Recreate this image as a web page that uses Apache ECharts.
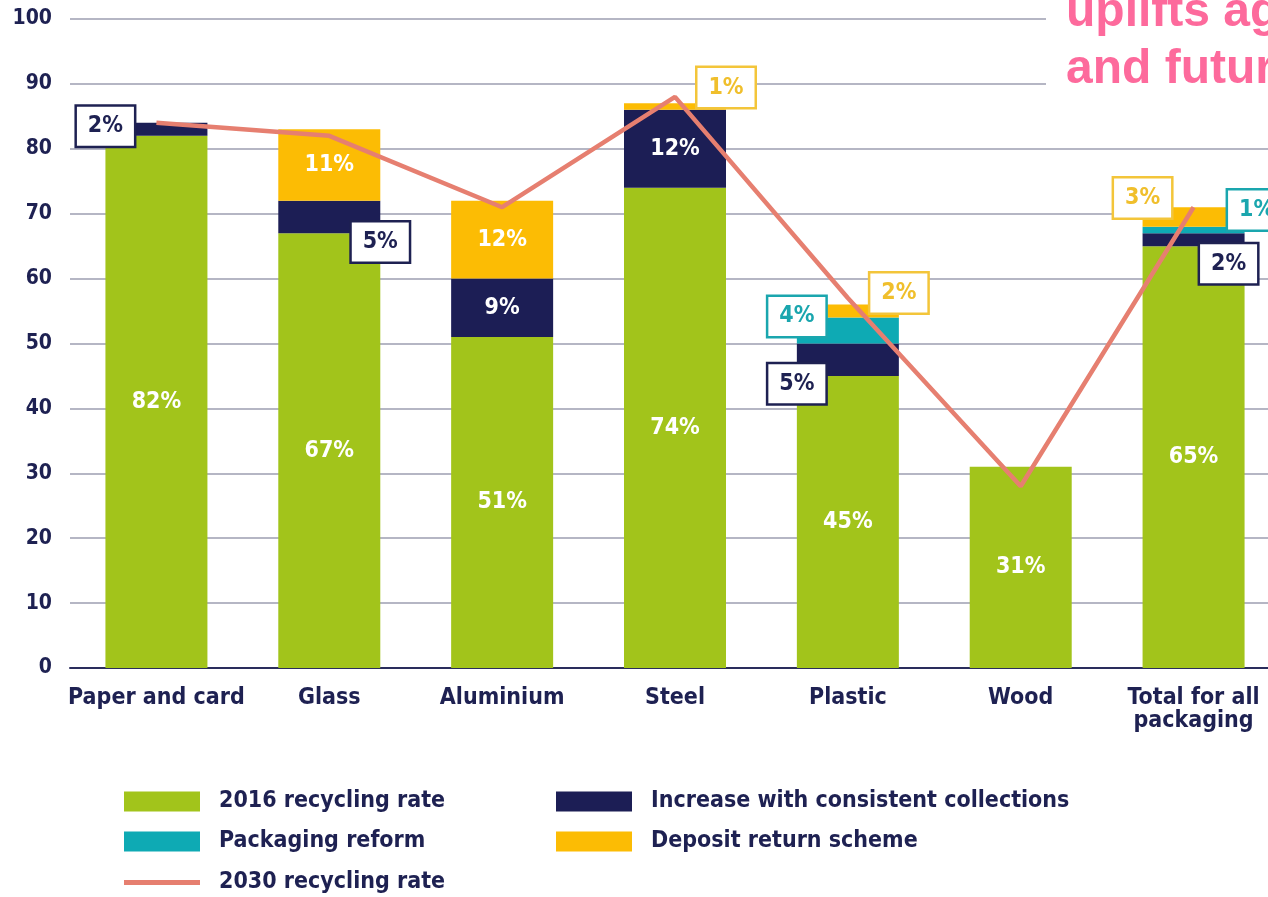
<!DOCTYPE html>
<html>
<head>
<meta charset="utf-8">
<script src="https://cdn.jsdelivr.net/npm/echarts@6/dist/echarts.min.js"></script>
<style>
  html, body { margin: 0; padding: 0; background: #fff; }
  #chart { width: 1268px; height: 897px; }
</style>
</head>
<body>
<div id="chart"></div>
<script>
// Packaging recycling rates: 2016 baseline plus uplifts from each measure, and 2030 rate
const categories = ['Paper and card', 'Glass', 'Aluminium', 'Steel', 'Plastic', 'Wood', 'Total for all\npackaging'];
const rate2016 = [82, 67, 51, 74, 45, 31, 65];
const consistentCollections = [2, 5, 9, 12, 5, null, 2];
const packagingReform = [null, null, null, null, 4, null, 1];
const depositReturn = [null, 11, 12, 1, 2, null, 3];
const rate2030 = [84, 82, 71, 88, 57, 28, 71];

const seriesNames = ['2016 recycling rate', 'Increase with consistent collections', 'Packaging reform', 'Deposit return scheme', '2030 recycling rate'];

const FONT = "'DejaVu Sans Condensed', 'DejaVu Sans', sans-serif";
const NAVY = '#1e2152';
const GREEN = '#a2c41b';
const DARK = '#1c1e55';
const TEAL = '#0eaab4';
const YELLOW = '#fcbc04';
const SALMON = '#e67f70';

// Boxed callouts placed beside small segments: pixel offset from segment centre
const callouts = {
  collections: { 0: [-51, -3], 1: [51, 25], 4: [-51, 24], 6: [35, 24] },
  reform: { 4: [-51, -14], 6: [63, -20] },
  deposit: { 3: [51, -19], 4: [51, -18], 6: [-51, -19] }
};
const calloutStyle = {
  collections: { text: NAVY, border: NAVY },
  reform: { text: '#1aa6ae', border: '#1aa6ae' },
  deposit: { text: '#f0bf2c', border: '#f3c53a' }
};

function segmentData(values, key) {
  return values.map((v, i) => {
    if (v == null) return '-';
    const off = key && callouts[key] && callouts[key][i];
    if (off) {
      const st = calloutStyle[key];
      return {
        value: v,
        label: {
          show: true, position: 'inside', offset: off,
          color: st.text, backgroundColor: '#ffffff',
          borderColor: st.border, borderWidth: 2.5,
          width: 57, height: 39, lineHeight: 39, align: 'center', verticalAlign: 'middle'
        }
      };
    }
    return { value: v, label: { show: true, position: 'inside', color: '#ffffff' } };
  });
}

const barLabel = {
  show: false,
  formatter: '{c}%',
  fontFamily: FONT, fontWeight: 'bold', fontSize: 23
};

function barSeries(name, values, key, color) {
  return {
    name, type: 'bar', stack: 'rate', barWidth: 102,
    itemStyle: { color },
    label: barLabel,
    data: segmentData(values, key),
    z: 2
  };
}

const chart = echarts.init(document.getElementById('chart'), null, { renderer: 'canvas' });

const legendText = { fontFamily: FONT, fontWeight: 'bold', fontSize: 23, color: NAVY, padding: [0, 0, 0, 14], lineHeight: 20 };
function legendAt(name, left, top, extra) {
  return Object.assign({
    data: [name], left, top, itemWidth: 76, itemHeight: 20, icon: 'rect',
    selectedMode: false, textStyle: legendText, padding: 0
  }, extra || {});
}

chart.setOption({
  animation: false,
  backgroundColor: '#ffffff',
  // plot runs past the right edge of the page, so the last column is cut off
  grid: { left: 70, top: 19, right: -12, bottom: 229, containLabel: false, outerBoundsMode: 'none' },
  legend: [
    legendAt(seriesNames[0], 124, 790),
    legendAt(seriesNames[1], 556, 790),
    legendAt(seriesNames[2], 124, 830),
    legendAt(seriesNames[3], 556, 830),
    legendAt(seriesNames[4], 124, 871, { itemHeight: 5 })
  ],
  xAxis: {
    type: 'category',
    data: categories,
    axisTick: { show: false },
    axisLine: { lineStyle: { color: '#2a2d5c', width: 2 } },
    axisLabel: {
      color: NAVY, fontFamily: FONT, fontWeight: 'bold', fontSize: 23,
      margin: 19, lineHeight: 23, interval: 0
    }
  },
  yAxis: {
    type: 'value', min: 0, max: 100, interval: 10,
    axisLine: { show: false }, axisTick: { show: false },
    splitLine: { lineStyle: { color: '#9c9eb0', width: 1.5 } },
    axisLabel: { color: NAVY, fontFamily: FONT, fontWeight: 'bold', fontSize: 21, margin: 18 }
  },
  series: [
    barSeries(seriesNames[0], rate2016, null, GREEN),
    barSeries(seriesNames[1], consistentCollections, 'collections', DARK),
    barSeries(seriesNames[2], packagingReform, 'reform', TEAL),
    barSeries(seriesNames[3], depositReturn, 'deposit', YELLOW),
    {
      name: seriesNames[4], type: 'line', data: rate2030,
      symbol: 'none', z: 3,
      lineStyle: { color: SALMON, width: 4.5 },
      itemStyle: { color: SALMON }
    }
  ],
  graphic: [
    { type: 'rect', left: 1046, top: 0, shape: { width: 230, height: 100 }, style: { fill: '#ffffff' }, z: 10 },
    { type: 'text', z: 11, style: { x: 1066, y: 13, text: 'uplifts against', font: "bold 48px 'Liberation Sans', Arial, sans-serif", fill: '#fd6a9c', verticalAlign: 'middle' } },
    { type: 'text', z: 11, style: { x: 1066, y: 70, text: 'and future', font: "bold 48px 'Liberation Sans', Arial, sans-serif", fill: '#fd6a9c', verticalAlign: 'middle' } }
  ]
});
</script>
</body>
</html>
